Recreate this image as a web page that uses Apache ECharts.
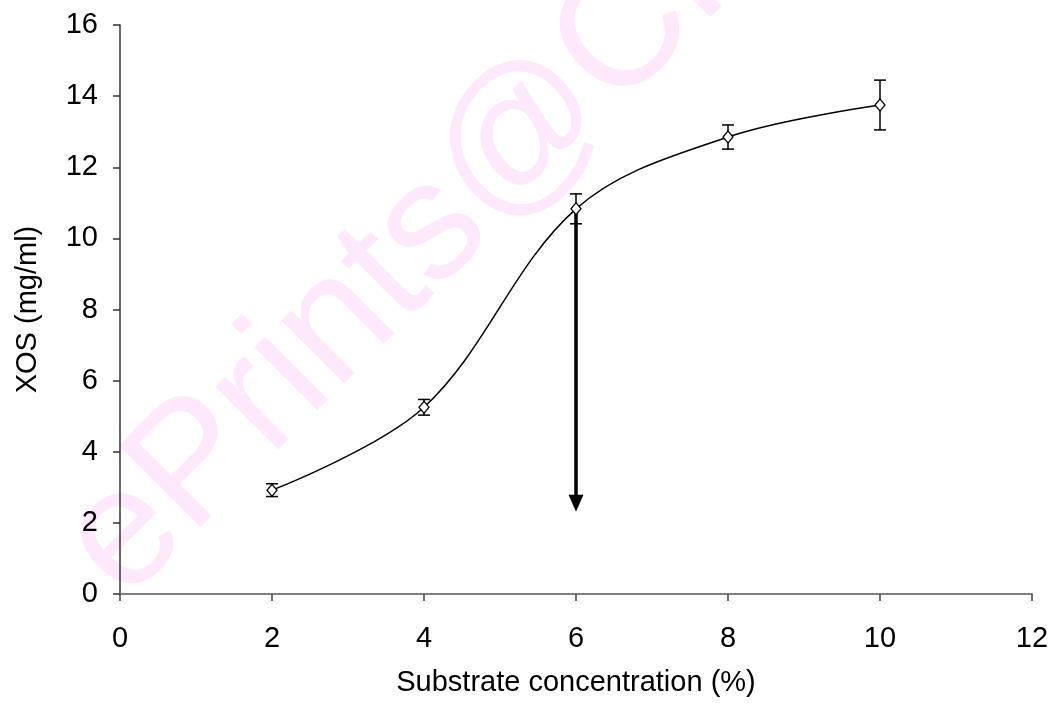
<!DOCTYPE html>
<html>
<head>
<meta charset="utf-8">
<script src="https://cdn.jsdelivr.net/npm/echarts@6/dist/echarts.min.js"></script>
<style>
  html, body { margin: 0; padding: 0; background: #fff; }
  #chart { width: 1052px; height: 710px; }
</style>
</head>
<body>
<div id="chart"></div>
<script>
// Substrate concentration (%) and XOS yield (mg/ml) with standard deviation
const concentration = [2, 4, 6, 8, 10];
const xos = [2.92, 5.25, 10.83, 12.85, 13.75];
const xosError = [0.18, 0.22, 0.42, 0.34, 0.70];

// Arrow marking the chosen concentration (end point is the centre of the head)
const arrowFrom = [6, 10.83];
const arrowTo = [6, 2.55];

const xTicks = [0, 2, 4, 6, 8, 10, 12];
const yTicks = [0, 2, 4, 6, 8, 10, 12, 14, 16];

const font = 'Liberation Sans, Arial, Helvetica, sans-serif';

const points = concentration.map((c, i) => [c, xos[i]]);
const errorData = concentration.map((c, i) => [c, xos[i] - xosError[i], xos[i] + xosError[i]]);

const chart = echarts.init(document.getElementById('chart'), null, { renderer: 'canvas' });

chart.setOption({
  backgroundColor: '#ffffff',
  animation: false,
  graphic: [{
    type: 'text',
    z: -10,
    silent: true,
    x: 92,
    y: 570,
    rotation: 45 * Math.PI / 180,
    style: {
      text: 'ePrints@CFTRI',
      fill: '#fde8fc',
      font: '168px ' + font,
      align: 'left',
      verticalAlign: 'middle',
      textAlign: 'left',
      textVerticalAlign: 'middle'
    }
  }],
  grid: { left: 120, right: 20, top: 25, bottom: 116, containLabel: false },
  xAxis: {
    type: 'value',
    min: xTicks[0],
    max: xTicks[xTicks.length - 1],
    interval: 2,
    name: 'Substrate concentration (%)',
    nameLocation: 'middle',
    nameGap: 74,
    nameTextStyle: { color: '#000', fontSize: 29, fontFamily: font },
    axisLine: { show: true, lineStyle: { color: '#808080', width: 2 } },
    axisTick: { show: true, inside: false, length: 7, lineStyle: { color: '#404040', width: 1.5 } },
    axisLabel: { color: '#000', fontSize: 29, fontFamily: font, margin: 30 },
    splitLine: { show: false }
  },
  yAxis: {
    type: 'value',
    min: yTicks[0],
    max: yTicks[yTicks.length - 1],
    interval: 2,
    name: 'XOS (mg/ml)',
    nameLocation: 'middle',
    nameGap: 78,
    nameTextStyle: { color: '#000', fontSize: 29, fontFamily: font },
    axisLine: { show: true, lineStyle: { color: '#333333', width: 1.5 } },
    axisTick: { show: true, inside: false, length: 7, lineStyle: { color: '#333333', width: 1.5 } },
    axisLabel: { color: '#000', fontSize: 29, fontFamily: font, margin: 22 },
    splitLine: { show: false }
  },
  series: [
    {
      type: 'line',
      data: points,
      smooth: 0.35,
      showSymbol: false,
      lineStyle: { color: '#000', width: 1.5 },
      z: 2
    },
    {
      type: 'custom',
      data: errorData,
      z: 3,
      renderItem: function (params, api) {
        const x = api.value(0);
        const lo = api.coord([x, api.value(1)]);
        const hi = api.coord([x, api.value(2)]);
        const cap = 6;
        const style = { stroke: '#000', lineWidth: 1.5 };
        return {
          type: 'group',
          children: [
            { type: 'line', shape: { x1: lo[0], y1: lo[1], x2: hi[0], y2: hi[1] }, style: style },
            { type: 'line', shape: { x1: lo[0] - cap, y1: lo[1], x2: lo[0] + cap, y2: lo[1] }, style: style },
            { type: 'line', shape: { x1: hi[0] - cap, y1: hi[1], x2: hi[0] + cap, y2: hi[1] }, style: style }
          ]
        };
      }
    },
    {
      type: 'scatter',
      data: points,
      symbol: 'diamond',
      symbolSize: [10, 12],
      itemStyle: { color: '#ffffff', borderColor: '#000', borderWidth: 1.3, opacity: 1 },
      z: 5,
      markLine: {
        silent: true,
        symbol: ['none', 'triangle'],
        symbolSize: [15, 17],
        lineStyle: { color: '#000', width: 3.5, type: 'solid' },
        label: { show: false },
        data: [[{ coord: arrowFrom }, { coord: arrowTo }]]
      }
    }
  ]
});
</script>
</body>
</html>
